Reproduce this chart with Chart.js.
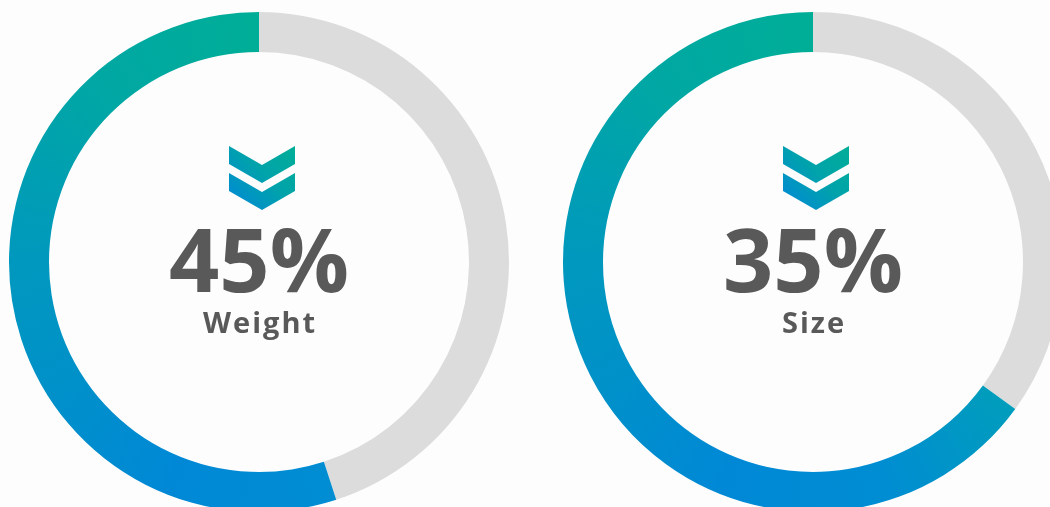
<!DOCTYPE html>
<html>
<head>
<meta charset="utf-8">
<script src="https://cdn.jsdelivr.net/npm/chart.js@4.4.0/dist/chart.umd.min.js"></script>
<style>
    html, body { margin: 0; padding: 0; background: #fdfdfd; overflow: hidden; width: 1050px; height: 507px; }
    .ring { position: absolute; width: 500px; height: 500px; top: 12px; }
    #ringWeight { left: 9px; }
    #ringSize { left: 563px; }
</style>
</head>
<body>
<div class="ring" id="ringWeight"><canvas id="weightChart"></canvas></div>
<div class="ring" id="ringSize"><canvas id="sizeChart"></canvas></div>
<script>
// Values
const metricLabels = ['Weight', 'Size'];
const percentValues = [45, 35];   // grey part, the figure shown in the middle
const restValues = [55, 65];      // coloured part

const greyColor = '#dcdcdc';
const textColor = '#595959';

// Conic gradient that follows the ring: teal at 12 o'clock, blue near the bottom
function ringGradient(chart) {
    const area = chart.chartArea;
    if (!area) return '#0094c8';
    const x = (area.left + area.right) / 2;
    const y = (area.top + area.bottom) / 2;
    if (!isFinite(x) || !isFinite(y)) return '#0094c8';
    const g = chart.ctx.createConicGradient(-Math.PI / 2, x, y);
    g.addColorStop(0.0, '#00ae97');
    g.addColorStop(0.33, '#00a0b8');
    g.addColorStop(0.45, '#008dd2');
    g.addColorStop(0.56, '#0088d6');
    g.addColorStop(0.75, '#0098be');
    g.addColorStop(0.88, '#00a7a4');
    g.addColorStop(1.0, '#00ae97');
    return g;
}

// Draws the double chevron, the big percentage and the label in the hole
const centerPlugin = {
    id: 'centerText',
    afterDraw(chart) {
        const arc = chart.getDatasetMeta(0).data[0];
        if (!arc) return;
        const ctx = chart.ctx;
        const cx = arc.x, cy = arc.y;
        const idx = chart.options.plugins.centerText.index;

        // chevrons
        const ix = cx + 3;
        const grad = ctx.createLinearGradient(ix + 33, cy - 116, ix - 33, cy - 54);
        grad.addColorStop(0, '#00ae97');
        grad.addColorStop(0.45, '#00a3aa');
        grad.addColorStop(1, '#0088d8');
        ctx.save();
        ctx.fillStyle = grad;
        [0, 27].forEach(dy => {
            ctx.beginPath();
            ctx.moveTo(ix - 33, cy - 116 + dy);
            ctx.lineTo(ix, cy - 97 + dy);
            ctx.lineTo(ix + 33, cy - 116 + dy);
            ctx.lineTo(ix + 33, cy - 98 + dy);
            ctx.lineTo(ix, cy - 79 + dy);
            ctx.lineTo(ix - 33, cy - 98 + dy);
            ctx.closePath();
            ctx.fill();
        });

        // percentage
        ctx.fillStyle = textColor;
        ctx.textAlign = 'center';
        ctx.textBaseline = 'alphabetic';
        ctx.font = 'bold 88px "Open Sans"';
        ctx.fillText(percentValues[idx] + '%', cx, cy + 30);

        // label
        ctx.font = 'bold 29px "Open Sans"';
        ctx.letterSpacing = '2px';
        ctx.fillText(metricLabels[idx], cx + 1, cy + 71);
        ctx.restore();
    }
};

function makeRing(canvasId, idx) {
    const ctx = document.getElementById(canvasId).getContext('2d');
    return new Chart(ctx, {
        type: 'doughnut',
        data: {
            labels: [metricLabels[idx], 'Rest'],
            datasets: [{
                data: [percentValues[idx], restValues[idx]],
                backgroundColor: c => c.dataIndex === 0 ? greyColor : ringGradient(c.chart),
                borderWidth: 0,
                hoverOffset: 0,
                offset: 0
            }]
        },
        options: {
            responsive: true,
            maintainAspectRatio: false,
            animation: false,
            cutout: '84%',
            layout: { padding: 0 },
            events: [],
            plugins: {
                legend: { display: false },
                tooltip: { enabled: false },
                centerText: { index: idx }
            }
        },
        plugins: [centerPlugin]
    });
}

const weightChart = makeRing('weightChart', 0);
const sizeChart = makeRing('sizeChart', 1);
</script>
</body>
</html>
